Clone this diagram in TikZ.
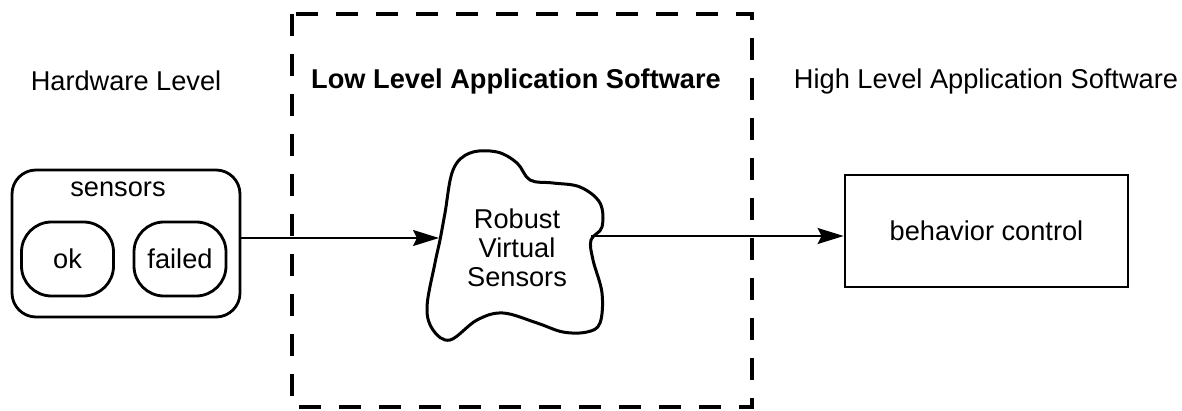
\documentclass[tikz,border=0pt]{standalone}
\usepackage{fontspec}
\setmainfont{Liberation Sans}
\usetikzlibrary{arrows.meta}

\begin{document}
\begin{tikzpicture}[x=0.5pt, y=-0.5pt,
    every node/.style={font=\fontsize{13.6}{14.6}\selectfont, inner sep=0pt},
    statebox/.style={draw, line width=1.4pt, rounded corners=15pt,
      minimum width=46pt, minimum height=37pt},
    flow/.style={line width=1.1pt, -{Stealth[length=13pt, width=8pt, inset=2pt]}}]
  \useasboundingbox (0,0) rectangle (1182,411);
  % Level headings.
  \node (hwlabel) at (126,81)  {Hardware Level};
  \node (lllabel) at (516,81)  {\bfseries Low Level Application Software};
  \node (hllabel) at (986,81)  {High Level Application Software};
  % Dashed frame round the low level part.
  \draw[line width=2pt, dash pattern=on 11pt off 9pt] (292,14) rectangle (752,407);
  % Sensors with their two states.
  \node[draw, line width=1.4pt, rounded corners=12pt,
        minimum width=114pt, minimum height=73.5pt] (sensors) at (126,243.5) {};
  \node (senslabel) at (118,189) {sensors};
  \node[statebox] (ok)     at (67.5,259) {ok};
  \node[statebox] (failed) at (180,259)  {failed};
  % Cloud of robust virtual sensors.
  \draw[line width=1.5pt] plot[smooth cycle, tension=0.6] coordinates {
    (453,170) (470,153) (497,152) (517,163) (530,180) (553,183)
    (580,187) (600,203) (602,227) (591,240) (593,260) (602,293)
    (600,323) (587,332) (563,332) (537,323) (503,313) (477,320)
    (450,340) (433,330) (427,307) (435,263) (440,240) (445,213)};
  \node[align=center] (rvs) at (517,248) {Robust\\Virtual\\Sensors};
  \coordinate (cloudin)  at (439,238);
  \coordinate (cloudout) at (591,236);
  % Behaviour control box.
  \node[draw, line width=1.4pt, minimum width=141.5pt, minimum height=56pt]
    (behavior) at (986.5,231) {behavior control};
  % Data flow.
  \draw[flow] (sensors.east |- cloudin) -- (cloudin);
  \draw[flow] (cloudout) -- (behavior.west |- cloudout);
\end{tikzpicture}
\end{document}
